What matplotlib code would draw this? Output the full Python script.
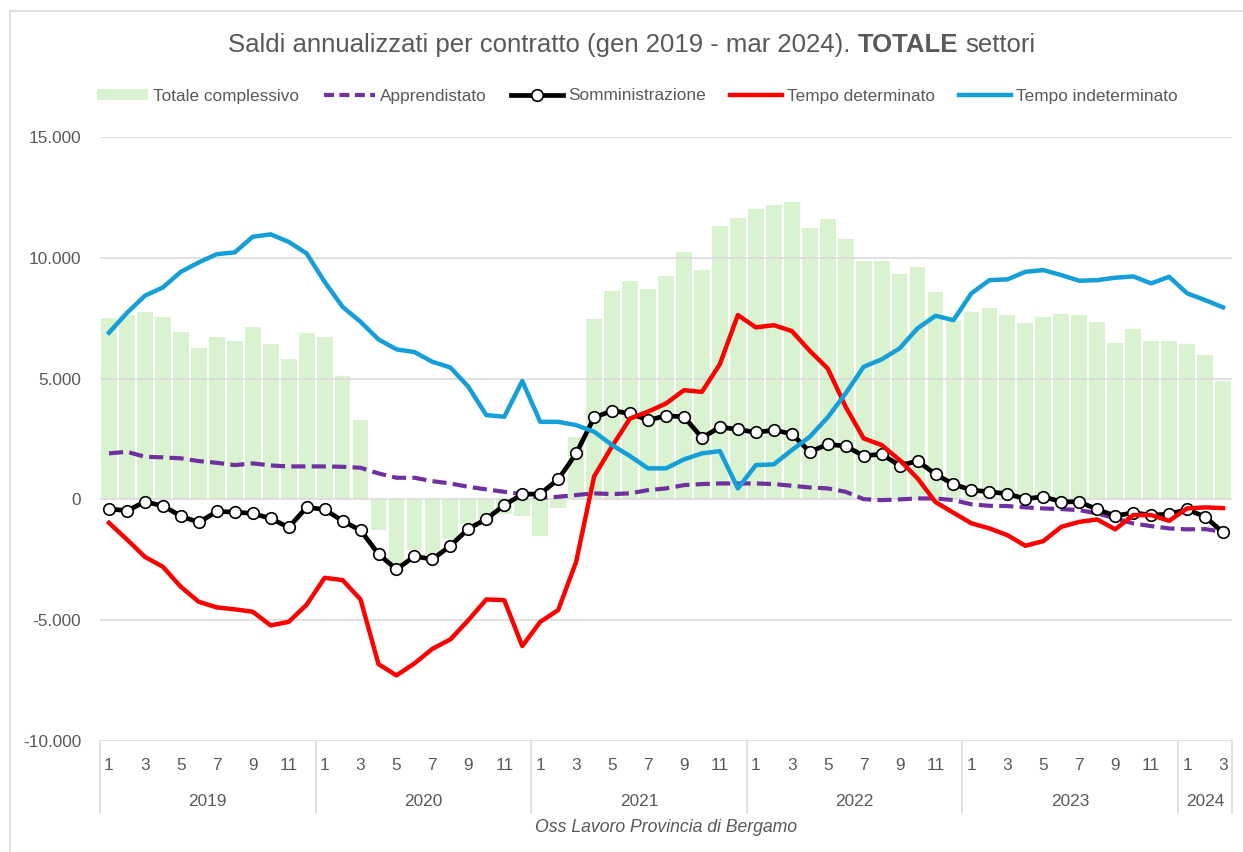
import numpy as np
import matplotlib
matplotlib.use('Agg')
import matplotlib.pyplot as plt
import matplotlib.font_manager as fm
from matplotlib.lines import Line2D
from matplotlib.patches import Patch, Rectangle

# ---------------- data ----------------
years = ['2019', '2020', '2021', '2022', '2023', '2024']
months_per_year = [12, 12, 12, 12, 12, 3]
month_labels_shown = ['1', '3', '5', '7', '9', '11']

totale = [7490, 7630, 7765, 7530, 6925, 6250, 6720, 6550, 7130, 6415, 5820, 6900,
          6730, 5100, 3280, -1280, -2950, -2110, -2250, -1630, -1000, -970, -620, -700,
          -1500, -370, 2590, 7460, 8630, 9020, 8690, 9230, 10220, 9500, 11300, 11630,
          12030, 12170, 12320, 11220, 11590, 10770, 9860, 9860, 9350, 9630, 8590, 7400,
          7765, 7930, 7615, 7300, 7545, 7655, 7615, 7340, 6470, 7035, 6565, 6550,
          6430, 5970, 4900]

apprendistato = [1905, 1970, 1765, 1740, 1700, 1585, 1515, 1420, 1490, 1405, 1365, 1365,
                 1365, 1350, 1310, 1075, 895, 895, 755, 660, 520, 415, 315, 220,
                 65, 110, 180, 250, 220, 250, 385, 455, 590, 635, 660, 660,
                 660, 635, 565, 495, 455, 315, 10, -30, 0, 40, 40, -30,
                 -205, -265, -275, -330, -375, -400, -445, -580, -785, -995, -1105, -1200,
                 -1240, -1230, -1340]

somministrazione = [-390, -470, -100, -265, -690, -950, -500, -525, -580, -790, -1160, -330,
                    -415, -890, -1280, -2260, -2900, -2350, -2480, -1920, -1220, -815, -235, 210,
                    230, 830, 1900, 3390, 3670, 3560, 3280, 3460, 3420, 2550, 2990, 2900,
                    2770, 2870, 2715, 1970, 2280, 2210, 1800, 1875, 1400, 1590, 1040, 630,
                    385, 315, 230, 25, 110, -100, -100, -415, -680, -555, -650, -610,
                    -415, -720, -1365]

determinato = [-970, -1660, -2380, -2790, -3620, -4240, -4470, -4550, -4650, -5215, -5070, -4360,
               -3245, -3340, -4140, -6820, -7285, -6790, -6185, -5795, -5000, -4140, -4170, -6070,
               -5070, -4580, -2580, 950, 2200, 3350, 3630, 3970, 4520, 4450, 5600, 7630,
               7120, 7210, 6970, 6150, 5420, 3830, 2525, 2250, 1630, 870, -110, -555,
               -990, -1200, -1480, -1920, -1725, -1135, -930, -830, -1240, -650, -650, -885,
               -375, -330, -360]

indeterminato = [6900, 7720, 8430, 8775, 9420, 9810, 10150, 10225, 10870, 10970, 10660, 10180,
                 9005, 7970, 7350, 6620, 6210, 6100, 5695, 5460, 4660, 3490, 3420, 4900,
                 3210, 3210, 3075, 2800, 2250, 1790, 1285, 1285, 1655, 1905, 2000, 455,
                 1420, 1450, 2040, 2590, 3395, 4390, 5490, 5795, 6250, 7080, 7600, 7420,
                 8530, 9075, 9105, 9420, 9490, 9285, 9050, 9075, 9175, 9230, 8940, 9215,
                 8530, 8250, 7950]

series_names = ['Totale complessivo', 'Apprendistato', 'Somministrazione',
                'Tempo determinato', 'Tempo indeterminato']
title_parts = ['Saldi annualizzati per contratto (gen 2019 - mar 2024).', 'TOTALE', 'settori']
footer = 'Oss Lavoro Provincia di Bergamo'
y_ticks = [-10000, -5000, 0, 5000, 10000, 15000]

# ---------------- style ----------------
names = {f.name for f in fm.fontManager.ttflist}
FONT = 'Liberation Sans Narrow' if 'Liberation Sans Narrow' in names else 'Liberation Sans'
plt.rcParams['font.family'] = [FONT, 'DejaVu Sans']

TXT = '#595959'
GRID = '#D9D9D9'
C_BAR = '#D9F2D0'
C_APP = '#7030A0'
C_SOM = '#000000'
C_DET = '#FF0000'
C_IND = '#149FD9'
FS = 12.4

W, H = 1243, 852
fig = plt.figure(figsize=(W / 100, H / 100), dpi=100)
ax = fig.add_axes([100 / W, 1 - 741 / H, 1132 / W, 604 / H])

n = len(totale)
x = np.arange(n)

ax.bar(x, totale, width=0.88, color=C_BAR, zorder=1)
ax.plot(x, apprendistato, color=C_APP, lw=3.0, dashes=(3.4, 1.5), zorder=3)
ax.plot(x, somministrazione, color=C_SOM, lw=3.4, marker='o', ms=8.3,
        mfc='white', mec='black', mew=1.2, zorder=4)
ax.plot(x, determinato, color=C_DET, lw=3.2, zorder=5)
ax.plot(x, indeterminato, color=C_IND, lw=3.2, zorder=6)

ax.set_xlim(-0.5, n - 0.5)
ax.set_ylim(-10000, 15000)
ax.set_yticks(y_ticks)
ax.set_yticklabels([f'{v:,}'.replace(',', '.') for v in y_ticks])
ax.tick_params(axis='y', length=0, pad=13.5, labelsize=FS, labelcolor=TXT)
ax.set_xticks([])
for s in ax.spines.values():
    s.set_visible(False)
ax.grid(axis='y', color=GRID, lw=1.1)
ax.set_axisbelow(False)
for gl in ax.get_ygridlines():
    gl.set_zorder(1.5)

# category axis (months + years)
ax_h = 604.0
trans = ax.get_xaxis_transform()
start = 0
bounds = [-0.5]
for yr, m in zip(years, months_per_year):
    for k in range(m):
        lab = str(k + 1)
        if lab in month_labels_shown:
            ax.text(start + k, -25 / ax_h, lab, transform=trans, ha='center', va='center',
                    fontsize=FS, color=TXT, clip_on=False)
    ax.text(start + (m - 1) / 2, -61 / ax_h, yr, transform=trans, ha='center', va='center',
            fontsize=FS, color=TXT, clip_on=False)
    start += m
    bounds.append(start - 0.5)
for b in bounds:
    ax.plot([b, b], [0, -72 / ax_h], transform=trans, color=GRID, lw=1.1, clip_on=False)

ax.text(0.5, -(828 - 741) / ax_h, footer, transform=ax.transAxes, ha='center', va='center',
        fontsize=FS + 0.3, style='italic', color=TXT)

# legend
handles = [Patch(facecolor=C_BAR, edgecolor='none'),
           Line2D([0], [0], color=C_APP, lw=3.0, dashes=(2.4, 1.3)),
           Line2D([0], [0], color=C_SOM, lw=3.4, marker='o', ms=8.3, mfc='white', mec='black', mew=1.2),
           Line2D([0], [0], color=C_DET, lw=3.2),
           Line2D([0], [0], color=C_IND, lw=3.2)]
fig.legend(handles, series_names, loc='center', bbox_to_anchor=(637 / W, 1 - 96 / H), ncol=5,
           frameon=False, fontsize=FS, labelcolor=TXT, handlelength=3.0, handleheight=0.6,
           handletextpad=0.3, columnspacing=1.4)

# chart area frame
fig.patches.append(Rectangle((10 / W, -0.1), 1.2, (1 - 11 / H) + 0.1, transform=fig.transFigure,
                             fill=False, ec=GRID, lw=1.2))

# title with bold part
fig.canvas.draw()
r = fig.canvas.get_renderer()
kw = dict(fontsize=18.5, color=TXT, va='center')
weights = ['normal', 'bold', 'normal']
texts = [fig.text(0, 1 - 45 / H, s, fontweight=w, **kw) for s, w in zip(title_parts, weights)]
widths = [t.get_window_extent(r).width for t in texts]
a1 = fig.text(0, 0, 'a a', **kw)
a2 = fig.text(0, 0, 'aa', **kw)
space = a1.get_window_extent(r).width - a2.get_window_extent(r).width
a1.remove()
a2.remove()
total = sum(widths) + space * (len(texts) - 1)
x0 = 632 - total / 2
for t, w in zip(texts, widths):
    t.set_x(x0 / W)
    x0 += w + space

fig.savefig('out.png', dpi=100)
